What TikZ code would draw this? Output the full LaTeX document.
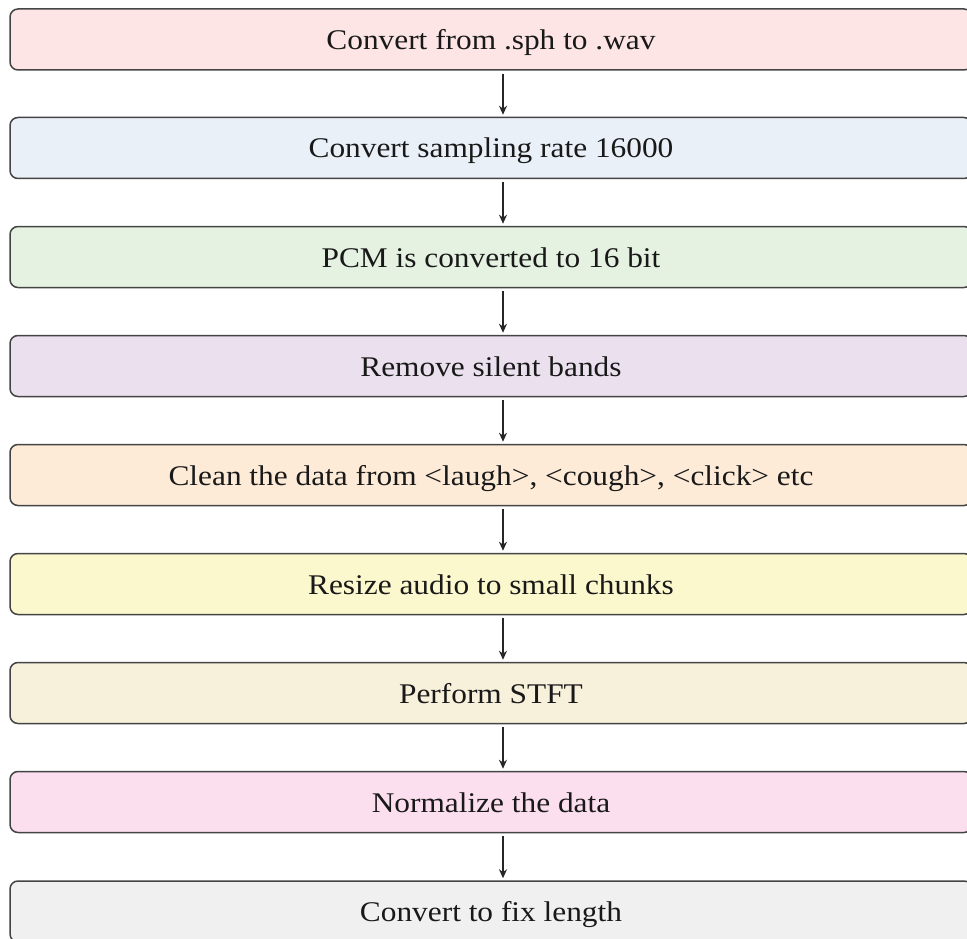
\documentclass[tikz,border=0pt]{standalone}
\usepackage{fontspec}
\setmainfont[FakeStretch=1.1]{Liberation Serif}
\usetikzlibrary{arrows.meta}
\definecolor{c1}{HTML}{FDE5E5}
\definecolor{c2}{HTML}{E9F0F8}
\definecolor{c3}{HTML}{E5F2E2}
\definecolor{c4}{HTML}{EAE0EE}
\definecolor{c5}{HTML}{FDEBD8}
\definecolor{c6}{HTML}{FBF8CD}
\definecolor{c7}{HTML}{F7F0DA}
\definecolor{c8}{HTML}{FCDFEE}
\definecolor{c9}{HTML}{F0F0F0}
\definecolor{bord}{HTML}{444444}
\tikzset{
  stepbox/.style={draw=bord, line width=1.5pt, rounded corners=8pt,
    minimum width=962pt, minimum height=61pt, inner sep=0pt,
    text height=24pt, text depth=4pt,
    font=\fontsize{28.5}{32}\selectfont, text=black!90},
  flow/.style={-{Stealth[length=9pt,width=8pt]}, line width=1.6pt, black!85},
}
\begin{document}
\begin{tikzpicture}[x=1pt,y=-1pt]
\useasboundingbox (0,0) rectangle (967,939);
\node[stepbox, fill=c1] (n1) at (491,39.5) {Convert from .sph to .wav};
\node[stepbox, fill=c2] (n2) at (491,148) {Convert sampling rate 16000};
\node[stepbox, fill=c3] (n3) at (491,257) {PCM is converted to 16 bit};
\node[stepbox, fill=c4] (n4) at (491,366) {Remove silent bands};
\node[stepbox, fill=c5] (n5) at (491,475) {Clean the data from <laugh>, <cough>, <click> etc};
\node[stepbox, fill=c6] (n6) at (491,584) {Resize audio to small chunks};
\node[stepbox, fill=c7] (n7) at (491,693) {Perform STFT};
\node[stepbox, fill=c8] (n8) at (491,802) {Normalize the data};
\node[stepbox, fill=c9] (n9) at (491,911.5) {Convert to fix length};
\foreach \a/\b in {n1/n2,n2/n3,n3/n4,n4/n5,n5/n6,n6/n7,n7/n8,n8/n9}
  \draw[flow] ([xshift=12pt,yshift=-3pt]\a.south) -- ([xshift=12pt,yshift=2pt]\b.north);
\end{tikzpicture}
\end{document}
